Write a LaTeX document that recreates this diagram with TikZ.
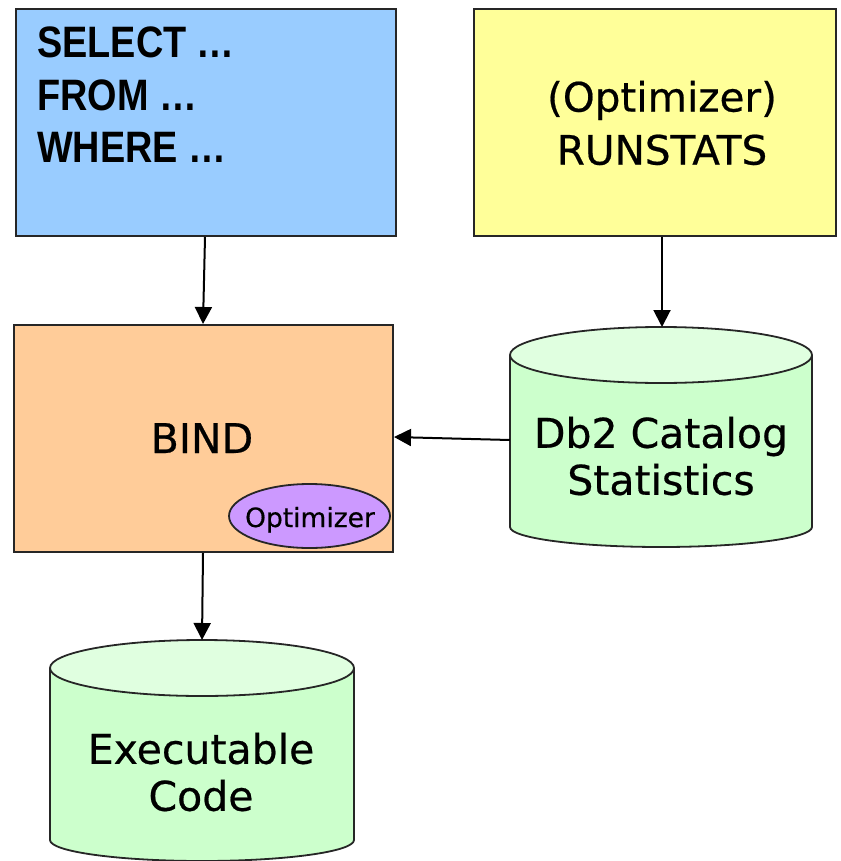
\documentclass[tikz,border=0pt]{standalone}
\usepackage{fontspec}
\setmainfont{DejaVu Sans}[FakeBold=0.5]
\newfontfamily\sqlfont{Liberation Sans Bold}[FakeStretch=0.86]
\usetikzlibrary{arrows.meta,shapes.geometric}
\definecolor{sqlblue}{HTML}{99CCFF}
\definecolor{runyellow}{HTML}{FFFF99}
\definecolor{bindpeach}{HTML}{FFCC99}
\definecolor{optpurple}{HTML}{CC99FF}
\definecolor{cylbody}{HTML}{CCFFCC}
\definecolor{cyltop}{HTML}{E0FFE0}
\begin{document}
\begin{tikzpicture}[x=1pt,y=1pt,
  box/.style={draw=black!85, line width=2pt, inner sep=0pt, anchor=north west},
  outl/.style={draw=black!85, line width=1.8pt},
  conn/.style={line width=2pt, -{Triangle[width=17pt,length=17pt]}},
  bigtxt/.style={font=\fontsize{41}{47}\selectfont, align=center, inner sep=0pt}]
\useasboundingbox (0,0) rectangle (840,-861);
% SQL box
\node[box, fill=sqlblue, minimum width=380pt, minimum height=227pt] (sql) at (15,-8) {};
\node[anchor=base west, align=left, inner sep=0pt, font=\sqlfont\fontsize{44}{52.5}\selectfont] (sqltxt) at (37,-163) {SELECT …\\FROM …\\WHERE …};
% RUNSTATS box
\node[box, fill=runyellow, minimum width=362pt, minimum height=227pt] (run) at (473,-8) {};
\node[font=\fontsize{40.5}{53}\selectfont, align=center, inner sep=0pt] (runtxt) at (662,-123) {(Optimizer)\\RUNSTATS};
% BIND box
\node[box, fill=bindpeach, minimum width=379pt, minimum height=227pt] (bind) at (13,-324) {};
\node[anchor=base, inner sep=0pt, font=\fontsize{41}{47}\selectfont] (bindtxt) at (202,-453) {BIND};
\node[ellipse, outl, fill=optpurple, minimum width=161pt, minimum height=64pt, inner sep=0pt] (opt) at (309.5,-516) {};
\node[anchor=base, inner sep=0pt, font=\fontsize{26.5}{30}\selectfont] (opttxt) at (310,-527) {Optimizer};
% Db2 catalog cylinder
\fill[cylbody] (510,-355) -- (510,-527) arc[start angle=180, end angle=360, x radius=151, y radius=20] -- (812,-355) -- cycle;
\draw[outl] (510,-355) -- (510,-527) arc[start angle=180, end angle=360, x radius=151, y radius=20] -- (812,-355);
\draw[outl, fill=cyltop] (661,-355) ellipse[x radius=151, y radius=28];
\node[inner sep=0pt, minimum width=302pt, minimum height=200pt] (cat) at (661,-441) {};
\node[bigtxt] (cattxt) at (661,-456) {Db2 Catalog\\Statistics};
\coordinate (cattop) at (662,-327);
% Executable code cylinder
\fill[cylbody] (50,-668) -- (50,-840) arc[start angle=180, end angle=360, x radius=152, y radius=21] -- (354,-668) -- cycle;
\draw[outl] (50,-668) -- (50,-840) arc[start angle=180, end angle=360, x radius=152, y radius=21] -- (354,-668);
\draw[outl, fill=cyltop] (202,-668) ellipse[x radius=152, y radius=28];
\node[inner sep=0pt, minimum width=304pt, minimum height=220pt] (exe) at (202,-750) {};
\node[bigtxt] (exetxt) at (201,-772) {Executable\\Code};
\coordinate (exetop) at (202,-640);
% connectors
\draw[conn] (sql.south -| 205,0) -- (bind.north -| 203,0);
\draw[conn] (run.south -| 662,0) -- (cattop);
\draw[conn] (cat.west |- 0,-440) -- (bind.east |- 0,-437);
\draw[conn] (bind.south -| 203,0) -- (exetop);
\end{tikzpicture}
\end{document}
